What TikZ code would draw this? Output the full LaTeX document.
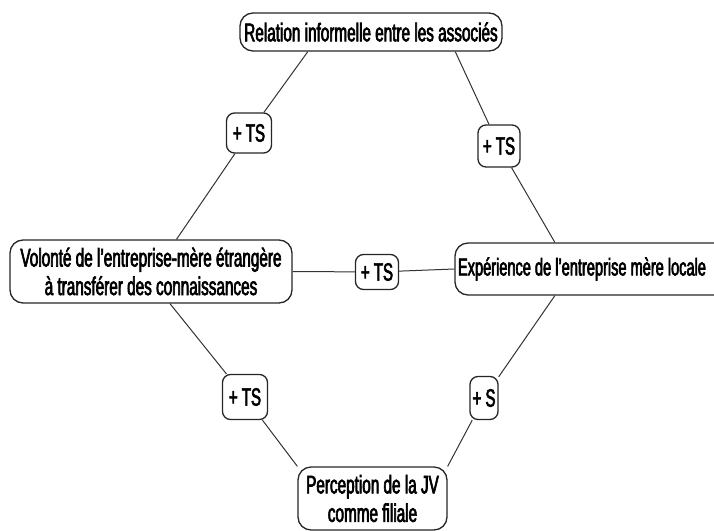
\documentclass[tikz,border=0pt]{standalone}
\usepackage{fontspec}
\setmainfont[FakeStretch=0.6,FakeBold=2.5]{Liberation Sans}
\usetikzlibrary{calc}
\begin{document}
\begin{tikzpicture}[x=1pt,y=-1pt,
 box/.style={draw=black!85, line width=1.3pt, rounded corners=13pt, fill=white, inner sep=0pt, font=\fontsize{25.5}{28.5}\selectfont, align=center},
 lab/.style={draw=black!85, line width=1.3pt, rounded corners=8pt, fill=white, inner sep=0pt, font=\fontsize{25}{25}\selectfont},
 conn/.style={draw=black!80, line width=1pt}]
\useasboundingbox (0,0) rectangle (714,530);
\node[box, minimum width=262pt, minimum height=38pt] (top) at (371,32) {Relation informelle entre les associés};
\node[box, minimum width=282pt, minimum height=63pt] (left) at (151,271.5) {Volonté de l'entreprise-mère étrangère\\à transférer des connaissances};
\node[box, minimum width=290pt, minimum height=52pt, text width=284pt, align=flush left, font=\fontsize{24.3}{28}\selectfont] (right) at (600,269) {Expérience de l'entreprise mère locale};
\node[box, minimum width=149pt, minimum height=63pt] (bot) at (372.5,498.5) {Perception de la JV\\comme filiale};
\node[lab, minimum width=45pt, minimum height=40pt] (l1) at (249,133) {+ TS};
\node[lab, minimum width=42pt, minimum height=42pt] (l2) at (499,146) {+ TS};
\node[lab, minimum width=43pt, minimum height=35pt] (l3) at (377,272) {+ TS};
\node[lab, minimum width=45pt, minimum height=45pt] (l4) at (245,397) {+ TS};
\node[lab, minimum width=28pt, minimum height=43pt] (l5) at (484,398) {+ S};
\draw[conn] ($(top.south west)!0.26!(top.south east)$) -- (l1) -- ($(left.north west)!0.59!(left.north east)$);
\draw[conn] ($(top.south west)!0.82!(top.south east)$) -- (l2) -- ($(right.north west)!0.345!(right.north east)$);
\draw[conn] (left.east) -- (l3) -- (right.west);
\draw[conn] ($(left.south west)!0.567!(left.south east)$) -- (l4) -- (bot.north west);
\draw[conn] ($(right.south west)!0.345!(right.south east)$) -- (l5) -- (bot.north east);
\end{tikzpicture}
\end{document}
